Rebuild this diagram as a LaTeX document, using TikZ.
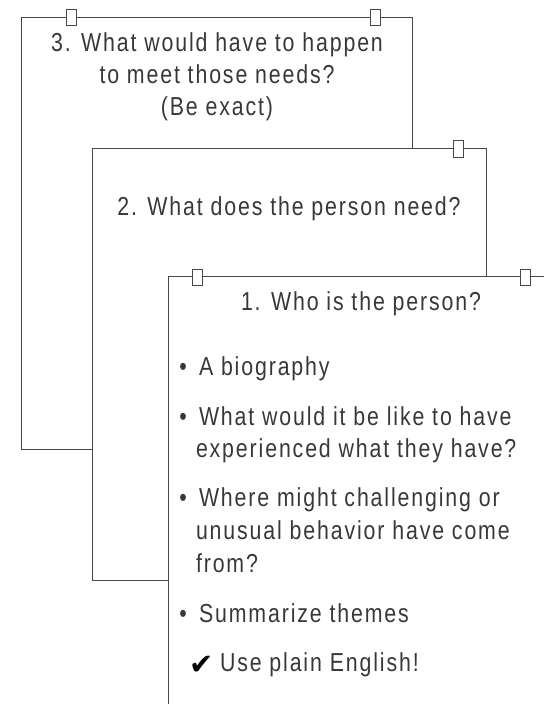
\documentclass[tikz,border=0pt]{standalone}
\usepackage{fontspec}
\setmainfont{Liberation Sans}[FakeStretch=0.82,LetterSpace=7.2]
\newfontfamily\symfont{DejaVu Sans}
\begin{document}
\begin{tikzpicture}[x=1pt,y=-1pt,
  frame/.style={draw=black!72, line width=0.9pt},
  tabbox/.style={draw=black!72, fill=white, line width=0.9pt},
  txt/.style={inner sep=0pt, outer sep=0pt, text=black!78, font=\fontsize{26}{33}\selectfont},
  ctr/.style={txt, anchor=base},
  lft/.style={txt, anchor=base west}]
\useasboundingbox (0,0) rectangle (544,704);
% box 3 (back)
\draw[frame] (412,148) -- (412,17) -- (21,17) -- (21,449) -- (92,449);
\draw[tabbox] (66,9) rectangle (76,25);
\draw[tabbox] (370,9) rectangle (380,25);
% box 2 (middle)
\draw[frame] (486,276) -- (486,148) -- (92,148) -- (92,580) -- (168,580);
\draw[tabbox] (453,140) rectangle (463,157);
% box 1 (front)
\draw[frame] (544,276) -- (168,276) -- (168,704);
\draw[tabbox] (192,269) rectangle (202,285);
\draw[tabbox] (520,269) rectangle (530,285);
% box 3 text
\node[ctr] (q3a) at (217,51) {3. What would have to happen};
\node[ctr] (q3b) at (217,83) {to meet those needs?};
\node[ctr] (q3c) at (217,115) {(Be exact)};
% box 2 text
\node[ctr] (q2) at (289,215) {2. What does the person need?};
% box 1 text
\node[ctr] (q1) at (361,310) {1. Who is the person?};
\node[ctr] (d1) at (183,375) {•};
\node[lft] (i1) at (199,375) {A biography};
\node[ctr] (d2) at (183,425) {•};
\node[lft] (i2a) at (199,425) {What would it be like to have};
\node[lft] (i2b) at (196,457) {experienced what they have?};
\node[ctr] (d3) at (183,506) {•};
\node[lft] (i3a) at (199,506) {Where might challenging or};
\node[lft] (i3b) at (196,539) {unusual behavior have come};
\node[lft] (i3c) at (196,572) {from?};
\node[ctr] (d4) at (183,622) {•};
\node[lft] (i4) at (199,622) {Summarize themes};
\node[lft, text=black] (ck) at (189,674) {\symfont\fontsize{29}{32}\selectfont ✔};
\node[lft] (i5) at (220,671) {Use plain English!};
\end{tikzpicture}
\end{document}
